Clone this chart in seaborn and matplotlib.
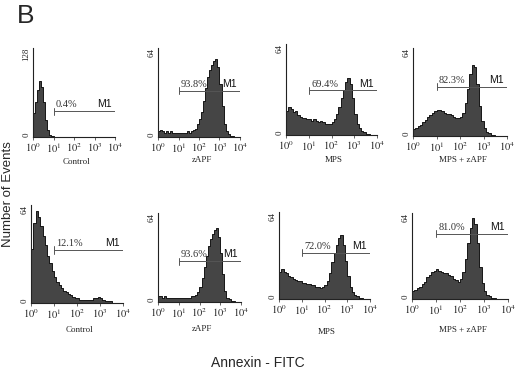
import numpy as np
import pandas as pd
import matplotlib
matplotlib.use("Agg")
import matplotlib.pyplot as plt
import seaborn as sns

sns.set_theme(style="white")
plt.rcParams['font.family'] = ['Liberation Serif', 'DejaVu Serif']
plt.rcParams['mathtext.fontset'] = 'stix'

# Bin centers in log10(FITC) decades
log_centers = [0.05 + 0.1 * i for i in range(40)]

control_1 = [35, 50, 68, 80, 72, 50, 25, 10, 3, 1] + [0] * 30
zapf_1 = [4, 5, 4, 3, 4, 3, 4, 3, 3, 3,
          3, 3, 3, 3, 4, 3, 4, 5, 6, 9,
          13, 18, 26, 35, 43, 48, 52, 55, 56, 50,
          38, 22, 9, 4, 2, 1, 1, 0, 0, 0]
mps_1 = [17, 20, 18, 16, 17, 14, 13, 12, 12, 11,
         11, 10, 11, 10, 9, 10, 9, 8, 8, 8,
         9, 11, 15, 20, 26, 32, 37, 40, 36, 26,
         15, 8, 5, 3, 2, 1, 1, 0, 0, 0]
mpszapf_1 = [5, 6, 7, 8, 10, 12, 14, 15, 17, 18,
             19, 19, 18, 17, 16, 16, 15, 14, 13, 13,
             14, 17, 24, 34, 45, 52, 50, 38, 22, 11,
             6, 3, 2, 1, 1, 0, 0, 0, 0, 0]
control_2 = [35, 52, 60, 56, 50, 44, 38, 31, 26, 21,
             17, 14, 12, 10, 8, 7, 6, 5, 4, 3,
             3, 2, 2, 2, 2, 2, 2, 3, 3, 4,
             3, 2, 1, 1, 1, 0, 0, 0, 0, 0]
zapf_2 = [4, 4, 3, 4, 3, 3, 3, 3, 3, 3,
          3, 3, 3, 3, 3, 3, 4, 4, 5, 7,
          11, 17, 25, 33, 40, 45, 49, 52, 53, 47,
          35, 20, 8, 3, 2, 1, 1, 0, 0, 0]
mps_2 = [20, 22, 20, 19, 17, 16, 15, 14, 13, 13,
         12, 12, 11, 11, 10, 10, 9, 9, 8, 9,
         10, 13, 19, 27, 34, 40, 45, 47, 40, 28,
         17, 9, 5, 3, 2, 1, 1, 0, 0, 0]
mpszapf_2 = [6, 7, 8, 9, 11, 13, 16, 18, 20, 21,
             22, 21, 20, 19, 19, 18, 17, 15, 14, 13,
             15, 20, 30, 42, 53, 60, 56, 42, 24, 12,
             6, 3, 2, 1, 1, 0, 0, 0, 0, 0]

conditions = ["Control", "zAPF", "MPS", "MPS + zAPF"]
percents = ["0.4%", "93.8%", "69.4%", "82.3%", "12.1%", "93.6%", "72.0%", "81.0%"]
y_max = [128, 64, 64, 64, 64, 64, 64, 64]
gate_frac = [0.29, 0.52, 0.49, 0.56, 0.54, 0.46, 0.53, 0.76]
series = [control_1, zapf_1, mps_1, mpszapf_1, control_2, zapf_2, mps_2, mpszapf_2]
x_tick_labels = [r"$10^0$", r"$10^1$", r"$10^2$", r"$10^3$", r"$10^4$"]

W, H = 520, 372
fig = plt.figure(figsize=(W / 100, H / 100), dpi=100)

# pixel boxes: left, top, right, bottom
boxes = [(33, 48, 115, 137), (158, 48, 240, 137), (286, 44, 377, 135), (413, 48, 507, 136),
         (31, 205, 123, 303), (158, 213, 241, 302), (279, 212, 370, 299), (412, 213, 508, 299)]
label_y = [162, 160, 160, 160, 330, 329, 332, 330]

edges = [0.1 * i for i in range(41)]
for i, (vals, box) in enumerate(zip(series, boxes)):
    l, t, r, b = box
    ax = fig.add_axes([l / W, 1 - b / H, (r - l) / W, (b - t) / H])
    df = pd.DataFrame({"x": log_centers, "w": vals})
    sns.histplot(data=df, x="x", weights="w", bins=edges, element="step", fill=True,
                 color="#454545", alpha=1.0, edgecolor="black", linewidth=0.6, ax=ax)
    ax.set_xlim(0, 4)
    ax.set_ylim(0, y_max[i])
    for s in ["top", "right"]:
        ax.spines[s].set_visible(False)
    for s in ["left", "bottom"]:
        ax.spines[s].set_color("#222222")
        ax.spines[s].set_linewidth(0.8)
    ax.set_xlabel("")
    ax.set_ylabel("")
    ax.set_xticks([0, 1, 2, 3, 4])
    ax.set_xticklabels(x_tick_labels, fontsize=7.5)
    ax.tick_params(axis="x", length=2, width=0.5, pad=1, direction="out", bottom=True)
    ax.set_yticks([0, y_max[i]])
    ax.set_yticklabels(["0", str(y_max[i])], rotation=90, fontsize=6.5)
    yl = ax.get_yticklabels()
    yl[0].set_va("bottom")
    yl[1].set_va("top")
    ax.tick_params(axis="y", length=0, pad=2)
    ax.set_facecolor("white")
    # M1 gate
    gy = gate_frac[i] * y_max[i]
    ax.plot([1, 4], [gy, gy], color="#555555", lw=0.7)
    ax.plot([1, 1], [gy - 0.04 * y_max[i], gy + 0.04 * y_max[i]], color="#555555", lw=0.7)
    ax.plot([4, 4], [gy - 0.04 * y_max[i], gy + 0.04 * y_max[i]], color="#555555", lw=0.7)
    ax.text(1.1, gy + 0.02 * y_max[i], percents[i], fontsize=7.5, ha="left", va="bottom", color="#333333")
    ax.text(3.85, gy + 0.02 * y_max[i], "M1", fontsize=7.5, ha="right", va="bottom",
            family=["Liberation Sans Narrow", "Liberation Sans", "DejaVu Sans"], color="#111111")
    fig.text((l + r) / 2 / W + 0.005, 1 - label_y[i] / H, conditions[i % 4], fontsize=6.5,
             ha="center", va="center")

fig.text(17 / W, 1 - 16 / H, "B", fontsize=19, family=["Liberation Sans", "DejaVu Sans"],
         ha="left", va="center")
fig.text(8 / W, 1 - 194 / H, "Number of Events", fontsize=9.5, rotation=90,
         family=["Liberation Sans", "DejaVu Sans"], ha="center", va="center")
fig.text(258 / W, 1 - 363 / H, "Annexin - FITC", fontsize=10,
         family=["Liberation Sans", "DejaVu Sans"], ha="center", va="center")

fig.savefig("out.png", dpi=100)
